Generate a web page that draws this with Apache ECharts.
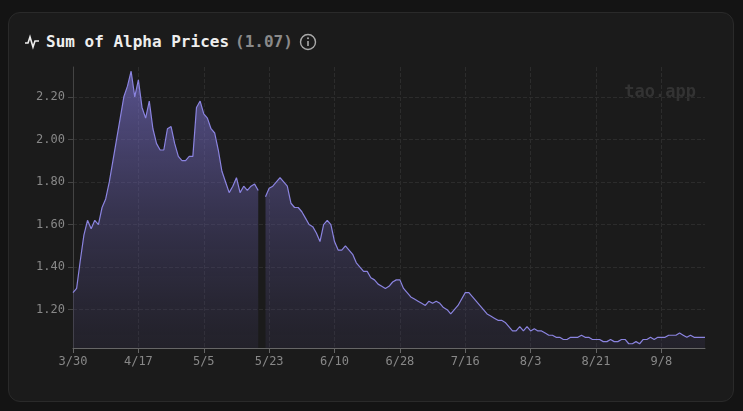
<!DOCTYPE html>
<html><head><meta charset="utf-8">
<script src="https://cdn.jsdelivr.net/npm/echarts@6/dist/echarts.min.js"></script>
<style>
html,body{margin:0;padding:0;background:#141414;width:743px;height:411px;overflow:hidden}
#card{position:absolute;left:8px;top:12px;width:726px;height:390px;border:1px solid #2a2a2a;border-radius:12px;background:#1b1b1b;box-sizing:border-box}
#title{position:absolute;left:24px;top:32px;font-family:"DejaVu Sans Mono",monospace;font-weight:bold;font-size:16px;color:#eee;display:flex;align-items:center;gap:6px}
#title .v{color:#8a8a8a}
#chart{position:absolute;left:0;top:0;width:743px;height:411px}
</style></head><body>
<div id="card"></div>
<div id="title"><svg width="16" height="16" viewBox="0 0 16 16"><polyline points="1,9 4,9 6,3 9,13 11,7 15,7" fill="none" stroke="#eee" stroke-width="1.6"/></svg><span>Sum of Alpha Prices</span><span class="v">(1.07)</span><svg width="18" height="18" viewBox="0 0 18 18"><circle cx="9" cy="9" r="7.5" fill="none" stroke="#aaa" stroke-width="1.4"/><line x1="9" y1="8" x2="9" y2="13" stroke="#aaa" stroke-width="1.6"/><circle cx="9" cy="5.3" r="1" fill="#aaa"/></svg></div>
<div id="chart"></div>
<script>
const startDate = [2025, 3, 30];
const values = [1.28,1.30,1.43,1.55,1.62,1.58,1.62,1.60,1.68,1.72,1.80,1.90,2.00,2.10,2.20,2.25,2.32,2.20,2.28,2.15,
2.10,2.18,2.05,1.98,1.95,1.95,2.05,2.06,1.98,1.92,1.90,1.90,1.92,1.92,2.15,2.18,2.12,2.10,2.05,2.03,
1.95,1.85,1.80,1.75,1.78,1.82,1.75,1.78,1.76,1.78,1.79,1.76,null,1.73,1.77,1.78,1.80,1.82,1.80,1.78,
1.70,1.68,1.68,1.66,1.63,1.60,1.59,1.56,1.52,1.60,1.62,1.60,1.52,1.48,1.48,1.50,1.48,1.46,1.42,1.40,
1.38,1.38,1.35,1.34,1.32,1.31,1.30,1.31,1.33,1.34,1.34,1.30,1.28,1.26,1.25,1.24,1.23,1.22,1.24,1.23,
1.24,1.23,1.21,1.20,1.18,1.20,1.22,1.25,1.28,1.28,1.26,1.24,1.22,1.20,1.18,1.17,1.16,1.15,1.15,1.14,
1.12,1.10,1.10,1.12,1.10,1.12,1.10,1.11,1.10,1.10,1.09,1.08,1.08,1.07,1.07,1.06,1.06,1.07,1.07,1.07,
1.08,1.07,1.07,1.06,1.06,1.06,1.05,1.05,1.06,1.05,1.05,1.06,1.06,1.04,1.04,1.05,1.04,1.06,1.06,1.07,
1.06,1.07,1.07,1.07,1.08,1.08,1.08,1.09,1.08,1.07,1.08,1.07,1.07,1.07,1.07];
const yTicks = [1.20,1.40,1.60,1.80,2.00,2.20];
const categories = [];
for (let i = 0; i < values.length; i++) {
  const d = new Date(startDate[0], startDate[1]-1, startDate[2]+i);
  categories.push((d.getMonth()+1)+'/'+d.getDate());
}
const chart = echarts.init(document.getElementById('chart'));
const font = '"DejaVu Sans Mono", monospace';
chart.setOption({
  animation:false,
  grid:{left:73,right:38,top:67,bottom:63},
  graphic:[{type:'text',right:47,top:84,style:{text:'tao.app',fill:'#333',font:'bold 17px "DejaVu Sans Mono", monospace'}}],
  xAxis:{type:'category',data:categories,boundaryGap:false,
    axisLine:{lineStyle:{color:'#666'}},
    axisTick:{show:true,interval:17,lineStyle:{color:'#666'}},
    axisLabel:{interval:17,color:'#888',fontFamily:font,fontSize:12,margin:8},
    splitLine:{show:true,interval:17,lineStyle:{color:'#2c2c2c',type:'dashed'}}},
  yAxis:{type:'value',min:1.02,max:2.34,
    axisLine:{show:true,lineStyle:{color:'#444'}},
    axisTick:{show:true,customValues:yTicks,lineStyle:{color:'#444'}},
    axisLabel:{customValues:yTicks,color:'#888',fontFamily:font,fontSize:12,formatter:v=>v.toFixed(2)},
    splitLine:{show:true,lineStyle:{color:'#2c2c2c',type:'dashed'}}},
  series:[{type:'line',data:values,showSymbol:false,connectNulls:false,
    lineStyle:{color:'#8b84e0',width:1.2},
    areaStyle:{color:new echarts.graphic.LinearGradient(0,0,0,1,[{offset:0,color:'rgba(130,120,220,0.85)'},{offset:1,color:'rgba(60,55,90,0.35)'}])}}]
});
</script></body></html>
